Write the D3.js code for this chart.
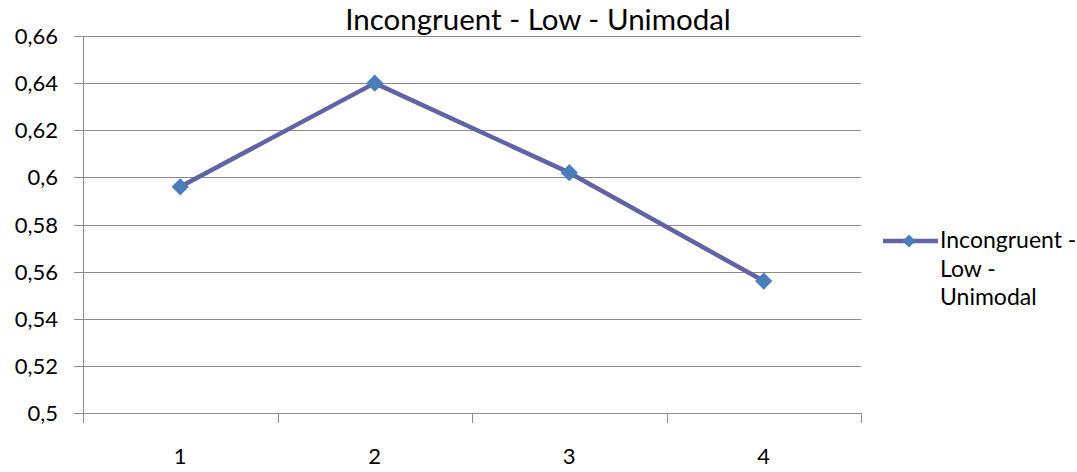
<!DOCTYPE html>
<html>
<head>
<meta charset="utf-8">
<script src="https://cdn.jsdelivr.net/npm/d3@7"></script>
<style>
body { margin: 0; background: #fff; }
text { font-family: Lato, "Open Sans", sans-serif; fill: #000; }
</style>
</head>
<body>
<svg width="1077" height="472"></svg>
<script>
var categories = ["1", "2", "3", "4"];
var values = [0.596, 0.64, 0.602, 0.556];
var yTicks = [0.5, 0.52, 0.54, 0.56, 0.58, 0.6, 0.62, 0.64, 0.66];
var seriesName = "Incongruent - Low - Unimodal";
var legendLines = ["Incongruent -", "Low -", "Unimodal"];

var svg = d3.select("svg");
var plotLeft = 83, plotRight = 861, plotTop = 36, plotBottom = 413;

var x = d3.scaleBand().domain(categories).range([plotLeft, plotRight]);
var y = d3.scaleLinear().domain([0.5, 0.66]).range([plotBottom, plotTop]);
var fmt = function (d) { return String(+d.toFixed(2)).replace(".", ","); };

// gridlines
svg.append("g").selectAll("line").data(yTicks).enter().append("line")
    .attr("x1", plotLeft - 9).attr("x2", plotRight)
    .attr("y1", d => Math.round(y(d)) + 0.5).attr("y2", d => Math.round(y(d)) + 0.5)
    .attr("stroke", "#8c8c8c").attr("stroke-width", 1);

// y axis
svg.append("line").attr("x1", plotLeft + 0.5).attr("x2", plotLeft + 0.5)
    .attr("y1", plotTop).attr("y2", plotBottom).attr("stroke", "#8c8c8c");
svg.append("g").selectAll("text").data(yTicks).enter().append("text")
    .attr("x", 58).attr("y", d => y(d) + 8)
    .attr("text-anchor", "end").attr("font-size", 22)
    .text(fmt);

// x axis ticks
var xEdges = categories.map(c => x(c)).concat([plotRight]);
svg.append("g").selectAll("line").data(xEdges).enter().append("line")
    .attr("x1", d => Math.round(d) + 0.5).attr("x2", d => Math.round(d) + 0.5)
    .attr("y1", plotBottom).attr("y2", plotBottom + 10)
    .attr("stroke", "#8c8c8c");
svg.append("g").selectAll("text").data(categories).enter().append("text")
    .attr("x", d => x(d) + x.bandwidth() / 2).attr("y", 464)
    .attr("text-anchor", "middle").attr("font-size", 22)
    .text(d => d);

// series line
var line = d3.line()
    .x((d, i) => x(categories[i]) + x.bandwidth() / 2)
    .y(d => y(d));
svg.append("path").datum(values)
    .attr("d", line).attr("fill", "none")
    .attr("stroke", "#6163a6").attr("stroke-width", 4.5).attr("stroke-linejoin", "round");

var diamond = d3.symbol().type(d3.symbolDiamond2).size(190);
svg.append("g").selectAll("path").data(values).enter().append("path")
    .attr("d", diamond)
    .attr("transform", (d, i) => "translate(" + (x(categories[i]) + x.bandwidth() / 2) + "," + y(d) + ")")
    .attr("fill", "#4a7ebb");

// title
svg.append("text").attr("x", 538).attr("y", 30)
    .attr("text-anchor", "middle").attr("font-size", 29.5)
    .text(seriesName);

// legend
svg.append("line").attr("x1", 883).attr("x2", 938).attr("y1", 241).attr("y2", 241)
    .attr("stroke", "#6163a6").attr("stroke-width", 4.5);
svg.append("path").attr("d", d3.symbol().type(d3.symbolDiamond2).size(110))
    .attr("transform", "translate(909,241)").attr("fill", "#4a7ebb");
svg.append("g").selectAll("text").data(legendLines).enter().append("text")
    .attr("x", 940).attr("y", (d, i) => 248 + i * 28.5)
    .attr("font-size", 23)
    .text(d => d);
</script>
</body>
</html>
